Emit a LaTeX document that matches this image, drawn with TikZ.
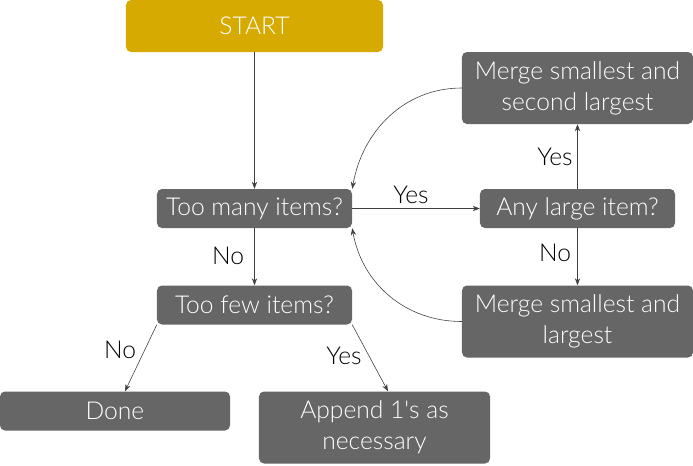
\documentclass[tikz,border=0pt]{standalone}
\usepackage{fontspec}
\setmainfont{Lato}[UprightFont=* Light]
\usetikzlibrary{arrows.meta}
\definecolor{startgold}{RGB}{214,170,0}
\definecolor{boxgray}{RGB}{102,102,102}

\begin{document}
\begin{tikzpicture}[x=0.03cm,y=-0.03cm,
  box/.style={fill=boxgray, text=white, rounded corners=0.15cm, inner sep=0pt, align=center, font=\fontsize{21}{26.5}\selectfont},
  smallbox/.style={box, minimum width=5.85cm, minimum height=1.17cm},
  bigbox/.style={box, minimum width=6.93cm, minimum height=2.16cm},
  arr/.style={-{Stealth[length=6pt,width=4.5pt]}, line width=0.5pt, black!75},
  lbl/.style={font=\fontsize{21}{25}\selectfont}]
\useasboundingbox (0,0) rectangle (693,465);
\node [box, fill=startgold, minimum width=7.71cm, minimum height=1.56cm] (start) at (254.5,26) {START};
\node [smallbox] (toomany) at (254.5,208.5) {Too many items?};
\node [smallbox] (anylarge) at (577.5,208.5) {Any large item?};
\node [bigbox] (mergesecond) at (577.5,88) {Merge smallest and\\second largest};
\node [bigbox] (mergelargest) at (577.5,321.5) {Merge smallest and\\largest};
\node [smallbox] (toofew) at (254.5,305) {Too few items?};
\node [smallbox, minimum width=6.9cm] (done) at (115,411) {Done};
\node [bigbox] (append) at (374.5,427.5) {Append 1\textquotesingle s as\\necessary};

\draw [arr] (start) -- (toomany);
\draw [arr] (toomany) -- (anylarge);
\draw [arr] (anylarge) -- (mergesecond);
\draw [arr] (anylarge) -- (mergelargest);
\draw [arr] (mergesecond.west) to[out=180,in=80] (toomany.north east);
\draw [arr] (mergelargest.west) to[out=180,in=-80] (toomany.south east);
\draw [arr] (toomany) -- (toofew);
\draw [arr] (toofew.south west) -- (done.north -| 125,0);
\draw [arr] (toofew.south east) -- (append.north -| 388,0);

\node [lbl] (yesright) at (411,195) {Yes};
\node [lbl] (yesup) at (555,157) {Yes};
\node [lbl] (nodown) at (555,253) {No};
\node [lbl] (nofew) at (228,256) {No};
\node [lbl] (nodone) at (120,350) {No};
\node [lbl] (yesappend) at (344,356) {Yes};
\end{tikzpicture}
\end{document}
